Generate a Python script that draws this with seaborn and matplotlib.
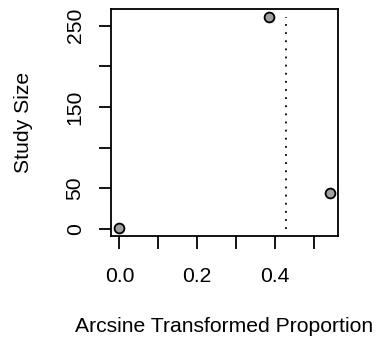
import matplotlib
matplotlib.use("Agg")
import matplotlib.pyplot as plt
import seaborn as sns
import pandas as pd

# Study estimates on the arcsine scale and their sample sizes
proportion = [0.0, 0.386, 0.541]
study_size = [2, 260, 45]
pooled_estimate = 0.430

x_ticks = [0.0, 0.1, 0.2, 0.3, 0.4, 0.5]
x_tick_labels = ["0.0", "", "0.2", "", "0.4", ""]
y_ticks = [0, 50, 100, 150, 200, 250]
y_tick_labels = ["0", "50", "", "150", "", "250"]

df = pd.DataFrame({"Proportion": proportion, "Size": study_size})

sns.set_style("ticks")
plt.rcParams["font.family"] = ["Liberation Sans", "DejaVu Sans"]
plt.rcParams["text.color"] = "black"
plt.rcParams["axes.labelcolor"] = "black"

fig = plt.figure(figsize=(3.78, 3.45), dpi=100)
ax = fig.add_axes([0.2937, 0.316, 0.6003, 0.658])

# pooled estimate as a dotted reference line
ax.vlines(pooled_estimate, 0, max(study_size), colors="black",
          linestyles=(0, (1, 3.5)), linewidth=1.3, zorder=1)
sns.scatterplot(data=df, x="Proportion", y="Size", ax=ax,
                color="#a0a0a0", edgecolor="black", linewidth=1.3,
                s=50, zorder=3, legend=False)

# 4% padding around the data range on both axes
xr = max(proportion) - min(proportion)
yr = max(study_size) - min(study_size)
ax.set_xlim(min(proportion) - 0.04 * xr, max(proportion) + 0.04 * xr)
ax.set_ylim(min(study_size) - 0.04 * yr, max(study_size) + 0.04 * yr)

ax.set_xticks(x_ticks)
ax.set_xticklabels(x_tick_labels)
ax.set_yticks(y_ticks)
ax.set_yticklabels(y_tick_labels, rotation=90, va="center")

for side in ax.spines.values():
    side.set_visible(True)
    side.set_linewidth(1.3)
    side.set_color("black")

ax.tick_params(axis="both", length=9, width=1.3, color="black",
               labelsize=15.2, labelcolor="black")
ax.tick_params(axis="x", pad=13.5)
ax.tick_params(axis="y", pad=10)

ax.set_xlabel("Arcsine Transformed Proportion", fontsize=15.2, labelpad=22.5)
ax.set_ylabel("Study Size", fontsize=15.2, labelpad=23.5)

fig.savefig("out.png", dpi=100)
